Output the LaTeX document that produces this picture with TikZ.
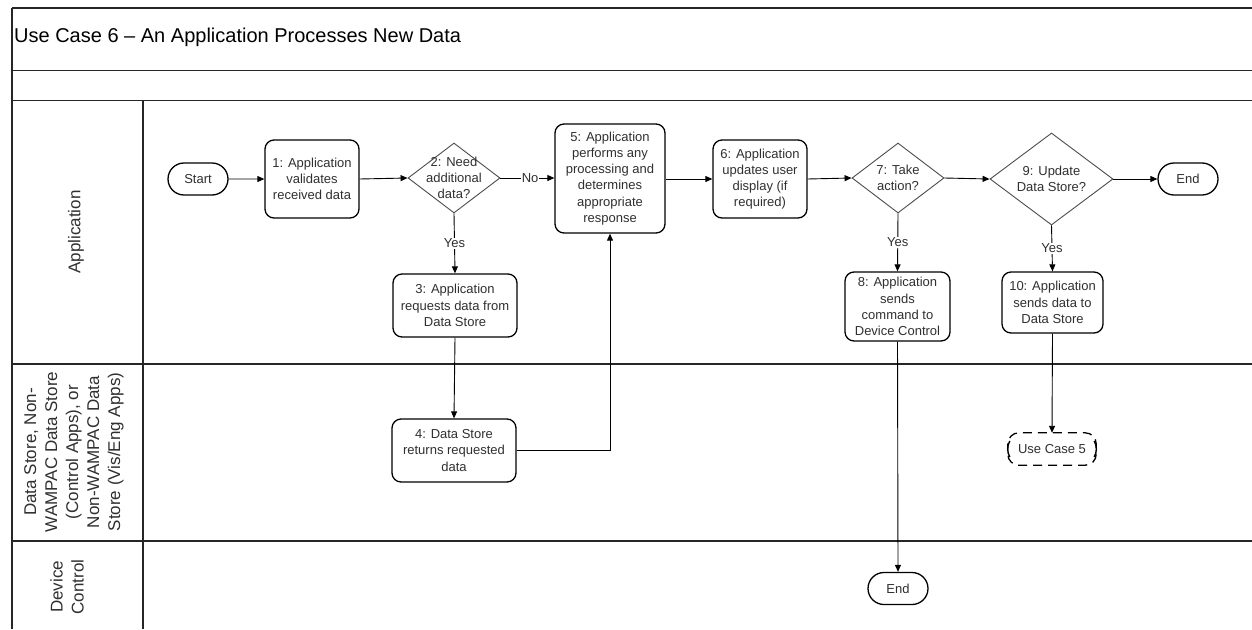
\documentclass[tikz,border=0pt]{standalone}
\usepackage{fontspec}
\setmainfont{Liberation Sans}
\usetikzlibrary{arrows.meta,shapes.geometric,shapes.misc}
\definecolor{txt}{HTML}{303030}
\begin{document}
\begin{tikzpicture}[x=1pt,y=-1pt,
  lane/.style={line width=1.1pt, draw=black!85},
  proc/.style={draw=black, line width=1.3pt, rounded corners=9pt, align=center, text=txt,
    font=\fontsize{13}{16.2}\selectfont, inner sep=1pt},
  term/.style={draw=black, line width=1.3pt, rounded rectangle, minimum width=62pt,
    minimum height=32pt, text=txt, font=\fontsize{13}{16}\selectfont, inner sep=1pt},
  dec/.style={draw=black!70, line width=0.9pt, diamond, inner sep=0pt},
  dectext/.style={align=center, text=txt, font=\fontsize{13}{16.2}\selectfont},
  conn/.style={line width=0.9pt, draw=black, -{Triangle[length=7pt,width=6pt]}},
  lbl/.style={fill=white, text=txt, font=\fontsize{13}{16}\selectfont, inner sep=1pt},
  lanelabel/.style={rotate=90, align=center, text=txt, font=\fontsize{17}{21}\selectfont}
]
\useasboundingbox (0,0) rectangle (1252,629);
\fill[white] (0,0) rectangle (1252,629);

% frame and lanes
\draw[lane] (12,8) -- (1252,8);
\draw[lane] (12,70.7) -- (1252,70.7);
\draw[lane] (12,100.7) -- (1252,100.7);
\draw[lane] (12,364) -- (1252,364);
\draw[lane] (12,541) -- (1252,541);
\draw[lane] (12,8) -- (12,629);
\draw[lane] (143,100.7) -- (143,629);

\node[anchor=base west, text=black, font=\fontsize{20}{24}\selectfont, inner sep=0pt] (title) at (14,42)
  {Use Case 6 – An Application Processes New Data};

\node[lanelabel] (lapp) at (76,232) {Application};
\node[lanelabel] (lds) at (74,452) {Data Store, Non-\\WAMPAC Data Store\\(Control Apps), or\\Non-WAMPAC Data\\Store (Vis/Eng Apps)};
\node[lanelabel] (ldc) at (67,587) {Device\\Control};

% nodes
\node[term] (start) at (198,179) {Start};
\node[proc, minimum width=94pt, minimum height=78pt] (n1) at (312,179) {1: Application\\validates\\received data};
\node[dec, minimum width=92pt, minimum height=70pt,
  label={[dectext]center:2: Need\\additional\\data?}] (n2) at (454,178) {};
\node[proc, minimum width=124pt, minimum height=63pt] (n3) at (455,305.5) {3: Application\\requests data from\\Data Store};
\node[proc, minimum width=124pt, minimum height=63pt] (n4) at (454,450.5) {4: Data Store\\returns requested\\data};
\node[proc, minimum width=110pt, minimum height=109pt] (n5) at (610,178.5) {5: Application\\performs any\\processing and\\determines\\appropriate\\response};
\node[proc, minimum width=94pt, minimum height=78pt] (n6) at (760,179) {6: Application\\updates user\\display (if\\required)};
\node[dec, minimum width=92pt, minimum height=70pt,
  label={[dectext]center:7: Take\\action?}] (n7) at (898,178) {};
\node[proc, minimum width=105pt, minimum height=69pt] (n8) at (897.5,306.5) {8: Application\\sends\\command to\\Device Control};
\node[dec, minimum width=123pt, minimum height=92pt,
  label={[dectext]center:9: Update\\Data Store?}] (n9) at (1051.5,179) {};
\node[proc, minimum width=101pt, minimum height=61pt] (n10) at (1052.5,302.5) {10: Application\\sends data to\\Data Store};
\node[term] (end1) at (1188,179) {End};
\node[term] (end2) at (898,588.5) {End};
\node[minimum width=88pt, minimum height=32pt, text=txt, font=\fontsize{13}{16}\selectfont, inner sep=0pt] (uc5) at (1052,449) {Use Case 5};
\draw[line width=1.3pt, dash pattern=on 9pt off 6pt, dash phase=3pt, rounded corners=11pt]
  (uc5.north west) rectangle (uc5.south east);
\draw[line width=1.4pt] ([xshift=2pt,yshift=-8pt]uc5.west) arc[start angle=210, end angle=150, radius=16pt];
\draw[line width=1.4pt] ([xshift=-2pt,yshift=-8pt]uc5.east) arc[start angle=-30, end angle=30, radius=16pt];

% connectors
\draw[conn] (start) -- (n1);
\draw[conn] (n1.east) -- (n2.west);
\draw[conn] (n2.east) -- node[lbl, pos=0.55] {No} (n5.west |- n2.east);
\draw[conn] (n2.south) -- node[lbl] {Yes} (n3.north);
\draw[conn] (n3.south) -- (n4.north);
\draw[conn] (n4.east) -| (n5.south);
\draw[conn] (n5.east |- n6.west) -- (n6.west);
\draw[conn] (n6.east) -- (n7.west);
\draw[conn] (n7.east) -- (n9.west);
\draw[conn] (n9.east) -- (end1.west);
\draw[conn] (n7.south) -- node[lbl] {Yes} (n8.north);
\draw[conn] (n9.south) -- node[lbl] {Yes} (n10.north);
\draw[conn] (n8.south) -- (end2.north);
\draw[conn] (n10.south) -- (uc5.north);
\end{tikzpicture}
\end{document}
